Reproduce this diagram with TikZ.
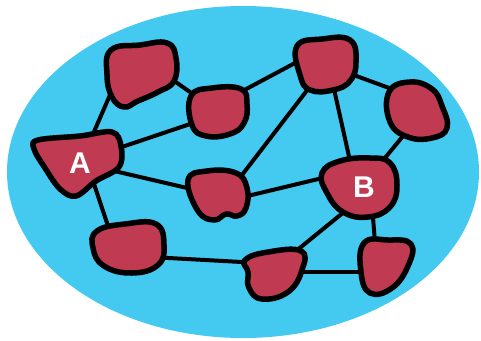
\documentclass[tikz,border=0pt]{standalone}
\usepackage{fontspec}
\newfontfamily\labfont{Liberation Sans}
\definecolor{sea}{RGB}{68,201,240}
\definecolor{blobred}{RGB}{192,58,82}
\begin{document}
\begin{tikzpicture}[x=1pt,y=-1pt,
  blob/.style={draw=black,fill=blobred,line width=5.5pt,line join=round},
  link/.style={draw=black,line width=4pt},
  lab/.style={text=white,font=\labfont\bfseries\fontsize{30}{30}\selectfont,inner sep=0pt}]
\useasboundingbox (0,0) rectangle (481,340);
\fill[sea] (243,172) ellipse [x radius=236, y radius=166];
% edge end coordinates
\coordinate (n1-n2) at (160,71);  \coordinate (n2-n1) at (200,99);
\coordinate (n1-a) at (113,88);   \coordinate (a-n1) at (90,141);
\coordinate (a-n2) at (110,151);  \coordinate (n2-a) at (205,119);
\coordinate (a-n6) at (110,170);  \coordinate (n6-a) at (200,191);
\coordinate (a-n8) at (92,178);   \coordinate (n8-a) at (112,238);
\coordinate (n2-n4) at (235,95);  \coordinate (n4-n2) at (310,55);
\coordinate (n4-n6) at (315,80);  \coordinate (n6-n4) at (232,188);
\coordinate (n4-b) at (332,80);   \coordinate (b-n4) at (352,170);
\coordinate (n4-n5) at (340,70);  \coordinate (n5-n4) at (400,92);
\coordinate (n5-b) at (408,130);  \coordinate (b-n5) at (375,170);
\coordinate (n6-b) at (235,199);  \coordinate (b-n6) at (335,175);
\coordinate (b-n9) at (355,203);  \coordinate (n9-b) at (285,260);
\coordinate (b-n10) at (372,205); \coordinate (n10-b) at (376,255);
\coordinate (n8-n9) at (150,257); \coordinate (n9-n8) at (260,263);
\coordinate (n9-n10) at (290,272);\coordinate (n10-n9) at (372,272);
% connectors
\draw[link] (n1-n2) -- (n2-n1);
\draw[link] (n1-a) -- (a-n1);
\draw[link] (a-n2) -- (n2-a);
\draw[link] (a-n6) -- (n6-a);
\draw[link] (a-n8) -- (n8-a);
\draw[link] (n2-n4) -- (n4-n2);
\draw[link] (n4-n6) -- (n6-n4);
\draw[link] (n4-b) -- (b-n4);
\draw[link] (n4-n5) -- (n5-n4);
\draw[link] (n5-b) -- (b-n5);
\draw[link] (n6-b) -- (b-n6);
\draw[link] (b-n9) -- (n9-b);
\draw[link] (b-n10) -- (n10-b);
\draw[link] (n8-n9) -- (n9-n8);
\draw[link] (n9-n10) -- (n10-n9);
% blobs
\draw[blob] plot[smooth cycle,tension=0.75] coordinates {(111,50) (140,45) (167,43) (176,58) (174,81) (158,92) (138,101) (124,107) (112,97) (107,75)};
\draw[blob] plot[smooth cycle,tension=0.75] coordinates {(191,96) (212,88) (241,89) (247,104) (244,123) (230,134) (206,136) (192,125)};
\draw[blob] plot[smooth cycle,tension=0.6] coordinates {(38,140) (80,136) (112,132) (121,146) (119,167) (96,181) (76,196) (60,189) (45,168) (34,149)};
\draw[blob] plot[smooth cycle,tension=0.75] coordinates {(188,180) (207,171) (236,173) (247,188) (246,208) (237,216) (226,214) (214,220) (198,211)};
\draw[blob] plot[smooth cycle,tension=0.75] coordinates {(297,46) (322,39) (350,40) (356,62) (350,81) (333,90) (310,90) (300,75)};
\draw[blob] plot[smooth cycle,tension=0.75] coordinates {(389,92) (410,82) (432,89) (442,106) (447,128) (432,138) (408,137) (390,122)};
\draw[blob] plot[smooth cycle,tension=0.75] coordinates {(322,173) (340,161) (370,158) (390,163) (397,185) (390,207) (368,217) (343,212) (327,193)};
\draw[blob] plot[smooth cycle,tension=0.75] coordinates {(97,231) (125,224) (156,224) (164,245) (158,265) (132,273) (104,266) (93,248)};
\draw[blob] plot[smooth cycle,tension=0.75] coordinates {(245,260) (268,252) (301,251) (302,270) (288,292) (262,299) (249,288) (248,272)};
\draw[blob] plot[smooth cycle,tension=0.75] coordinates {(364,243) (388,240) (411,244) (408,266) (392,288) (370,293) (361,272)};
% labels
\node[lab] (labA) at (80,163) {A};
\node[lab] (labB) at (364,187) {B};
\end{tikzpicture}
\end{document}
